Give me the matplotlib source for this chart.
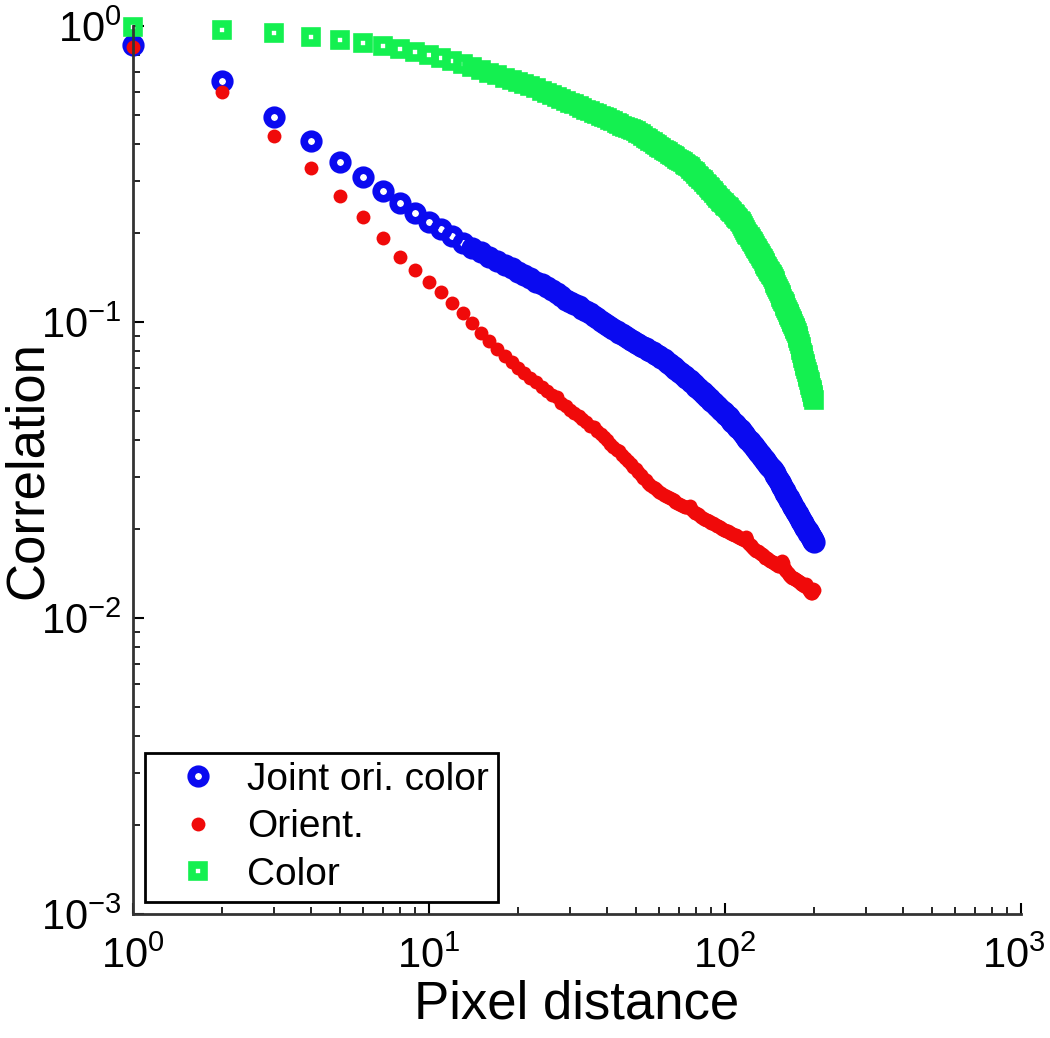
"""Spatial correlation vs pixel distance (log-log), joint / orientation / colour."""
import matplotlib
matplotlib.use("Agg")
import matplotlib.pyplot as plt
from matplotlib.transforms import offset_copy

plt.rcParams["font.family"] = ["Liberation Sans", "DejaVu Sans"]

# pixel distances 1..200
dist = list(range(1, 201))

joint = [0.863, 0.652, 0.493, 0.409, 0.347, 0.309, 0.277, 0.252, 0.233, 0.218,
         0.206, 0.195, 0.185, 0.178, 0.172, 0.166, 0.161, 0.156, 0.152, 0.148,
         0.144, 0.141, 0.137, 0.134, 0.131, 0.128, 0.125, 0.122, 0.119, 0.117,
         0.115, 0.113, 0.111, 0.109, 0.107, 0.105, 0.103, 0.101, 0.0995, 0.098,
         0.0965, 0.095, 0.0935, 0.092, 0.091, 0.090, 0.0885, 0.087, 0.086, 0.085,
         0.0841, 0.0832, 0.0823, 0.0814, 0.0805, 0.0797, 0.0789, 0.0782, 0.0774, 0.0766,
         0.0757, 0.0747, 0.0738, 0.0728, 0.0719, 0.0711, 0.0703, 0.0694, 0.0686, 0.0678,
         0.0671, 0.0664, 0.0656, 0.0649, 0.0642, 0.0635, 0.0627, 0.0620, 0.0612, 0.0605,
         0.0598, 0.0592, 0.0585, 0.0579, 0.0572, 0.0566, 0.0560, 0.0554, 0.0548, 0.0542,
         0.0537, 0.0531, 0.0526, 0.0520, 0.0515, 0.0510, 0.0505, 0.0500, 0.0495, 0.0490,
         0.0485, 0.0480, 0.0476, 0.0471, 0.0466, 0.0461, 0.0457, 0.0452, 0.0448, 0.0443,
         0.0439, 0.0434, 0.0430, 0.0425, 0.0421, 0.0417, 0.0412, 0.0408, 0.0403, 0.0399,
         0.0395, 0.0391, 0.0388, 0.0384, 0.0380, 0.0376, 0.0372, 0.0369, 0.0365, 0.0361,
         0.0358, 0.0355, 0.0351, 0.0348, 0.0345, 0.0342, 0.0339, 0.0336, 0.0333, 0.0330,
         0.0327, 0.0324, 0.0322, 0.0319, 0.0316, 0.0312, 0.0308, 0.0305, 0.0301, 0.0297,
         0.0294, 0.0291, 0.0287, 0.0284, 0.0281, 0.0278, 0.0275, 0.0271, 0.0268, 0.0265,
         0.0262, 0.0259, 0.0257, 0.0254, 0.0251, 0.0248, 0.0246, 0.0243, 0.0241, 0.0238,
         0.0236, 0.0233, 0.0231, 0.0228, 0.0226, 0.0224, 0.0222, 0.0219, 0.0217, 0.0215,
         0.0213, 0.0211, 0.0209, 0.0207, 0.0205, 0.0203, 0.0201, 0.0200, 0.0198, 0.0196,
         0.0194, 0.0193, 0.0191, 0.0190, 0.0188, 0.0187, 0.0185, 0.0184, 0.0182, 0.0181]

orient = [0.85, 0.598, 0.425, 0.331, 0.267, 0.226, 0.192, 0.166, 0.150, 0.137,
          0.126, 0.116, 0.107, 0.099, 0.092, 0.086, 0.081, 0.0765, 0.0731, 0.0701,
          0.0674, 0.0648, 0.0626, 0.0604, 0.0585, 0.0566, 0.0556, 0.0534, 0.0519, 0.0505,
          0.0492, 0.0480, 0.0469, 0.0458, 0.0447, 0.0441, 0.0428, 0.0419, 0.0408, 0.0398,
          0.0388, 0.0379, 0.0370, 0.0366, 0.0354, 0.0346, 0.0338, 0.0331, 0.0324, 0.0318,
          0.0311, 0.0305, 0.0298, 0.0292, 0.0285, 0.0281, 0.0277, 0.0274, 0.0270, 0.0266,
          0.0264, 0.0261, 0.0259, 0.0256, 0.0254, 0.0252, 0.0250, 0.0247, 0.0245, 0.0243,
          0.0241, 0.0239, 0.0237, 0.0237, 0.0238, 0.0239, 0.0233, 0.0229, 0.0227, 0.0226,
          0.0224, 0.0222, 0.0220, 0.0218, 0.0216, 0.0215, 0.0214, 0.0213, 0.0211, 0.0210,
          0.0209, 0.0207, 0.0206, 0.0205, 0.0204, 0.0203, 0.0201, 0.0200, 0.0199, 0.0198,
          0.0197, 0.0196, 0.0195, 0.0194, 0.0193, 0.0192, 0.0191, 0.0190, 0.0190, 0.0189,
          0.0188, 0.0187, 0.0186, 0.0185, 0.0185, 0.0184, 0.0186, 0.0188, 0.0184, 0.0179,
          0.0177, 0.0176, 0.0174, 0.0173, 0.0171, 0.0170, 0.0169, 0.0168, 0.0168, 0.0167,
          0.0166, 0.0165, 0.0164, 0.0163, 0.0162, 0.0161, 0.0160, 0.0160, 0.0159, 0.0158,
          0.0157, 0.0156, 0.0156, 0.0155, 0.0154, 0.0153, 0.0153, 0.0152, 0.0152, 0.0151,
          0.0150, 0.0150, 0.0151, 0.0153, 0.0155, 0.0156, 0.0153, 0.0148, 0.0146, 0.0145,
          0.0144, 0.0143, 0.0142, 0.0141, 0.0140, 0.0139, 0.0138, 0.0138, 0.0137, 0.0136,
          0.0136, 0.0135, 0.0135, 0.0134, 0.0134, 0.0133, 0.0133, 0.0132, 0.0132, 0.0131,
          0.0130, 0.0130, 0.0129, 0.0129, 0.0128, 0.0128, 0.0129, 0.0130, 0.0128, 0.0126,
          0.0125, 0.0124, 0.0123, 0.0122, 0.0121, 0.0121, 0.0122, 0.0123, 0.0125, 0.0124]

color = [0.995, 0.969, 0.947, 0.918, 0.897, 0.876, 0.853, 0.834, 0.817, 0.800,
         0.779, 0.761, 0.744, 0.727, 0.711, 0.696, 0.682, 0.669, 0.658, 0.646,
         0.636, 0.627, 0.616, 0.605, 0.595, 0.585, 0.576, 0.567, 0.559, 0.551,
         0.543, 0.536, 0.529, 0.522, 0.516, 0.510, 0.504, 0.498, 0.492, 0.487,
         0.481, 0.476, 0.471, 0.466, 0.461, 0.457, 0.453, 0.449, 0.445, 0.441,
         0.436, 0.431, 0.425, 0.420, 0.415, 0.410, 0.405, 0.400, 0.395, 0.390,
         0.386, 0.382, 0.378, 0.374, 0.370, 0.367, 0.363, 0.360, 0.356, 0.353,
         0.350, 0.347, 0.343, 0.340, 0.337, 0.333, 0.329, 0.324, 0.320, 0.316,
         0.312, 0.308, 0.305, 0.301, 0.297, 0.293, 0.290, 0.286, 0.283, 0.279,
         0.276, 0.273, 0.269, 0.266, 0.263, 0.260, 0.257, 0.255, 0.252, 0.249,
         0.247, 0.244, 0.242, 0.239, 0.237, 0.235, 0.232, 0.230, 0.227, 0.225,
         0.222, 0.219, 0.217, 0.214, 0.211, 0.208, 0.205, 0.202, 0.199, 0.1965,
         0.1938, 0.1912, 0.1885, 0.1859, 0.1832, 0.1808, 0.1784, 0.1761, 0.1737, 0.1713,
         0.1692, 0.1671, 0.1649, 0.1628, 0.1607, 0.1588, 0.1568, 0.1549, 0.1529, 0.1510,
         0.1492, 0.1474, 0.1456, 0.1438, 0.1420, 0.1398, 0.1377, 0.1355, 0.1334, 0.1312,
         0.1293, 0.1274, 0.1255, 0.1236, 0.1217, 0.1200, 0.1182, 0.1165, 0.1147, 0.1130,
         0.1114, 0.1099, 0.1083, 0.1068, 0.1052, 0.1038, 0.1024, 0.1010, 0.0997, 0.0983,
         0.0970, 0.0957, 0.0944, 0.0931, 0.0918, 0.0899, 0.0880, 0.0860, 0.0841, 0.0822,
         0.0805, 0.0788, 0.0772, 0.0755, 0.0738, 0.0723, 0.0708, 0.0694, 0.0679, 0.0664,
         0.0651, 0.0638, 0.0626, 0.0613, 0.0600, 0.0589, 0.0578, 0.0567, 0.0556, 0.0545]

fig = plt.figure(figsize=(10.5, 10.38), dpi=100)
ax = fig.add_axes([133 / 1050, 1 - 914 / 1038, 888 / 1050, 888 / 1038])

ax.plot(dist, joint, "o", ls="none", color="#0a0af0", mfc="none", mec="#0a0af0",
        ms=10.5, mew=5.5, label="Joint ori. color", clip_on=False)
ax.plot(dist, orient, "o", ls="none", color="#f00a0a", mec="none",
        ms=10, label="Orient.", clip_on=False)
ax.plot(dist, color, "s", ls="none", color="#14f050", mfc="none", mec="#14f050",
        ms=8, mew=5.5, label="Color", clip_on=False)

ax.set_xscale("log")
ax.set_yscale("log")
ax.set_xlim(1, 1000)
ax.set_ylim(1e-3, 1)
ax.spines["top"].set_visible(False)
ax.spines["right"].set_visible(False)
for s in ("left", "bottom"):
    ax.spines[s].set_linewidth(2)
    ax.spines[s].set_color("#333333")
ax.tick_params(which="major", direction="in", length=8, width=1.5, labelsize=30)
ax.tick_params(axis="x", which="major", pad=16)
ax.tick_params(axis="y", which="major", pad=8)
ax.tick_params(which="minor", direction="in", length=5, width=1.2)

ax.set_xlabel("Pixel distance", fontsize=38)
ax.set_ylabel("Correlation", fontsize=38)
ax.xaxis.set_label_coords(0.5, -0.074)
ax.yaxis.set_label_coords(-0.090, 0.5)

leg = ax.legend(loc="lower left", bbox_to_anchor=(0.0135, 0.0135), borderaxespad=0,
                fontsize=28, fancybox=False, framealpha=1, edgecolor="black",
                borderpad=0.23, handlelength=2.26, handletextpad=0.13, labelspacing=0.3)
leg.get_frame().set_linewidth(2)

# nudge the 10^3 label in so it is not clipped at the right edge
fig.canvas.draw()
for lab in ax.get_xticklabels():
    if abs(lab.get_position()[0] - 1000) < 1e-6:
        lab.set_transform(offset_copy(lab.get_transform(), fig=fig, x=-7, y=0, units="dots"))

fig.savefig("out.png", dpi=100)
